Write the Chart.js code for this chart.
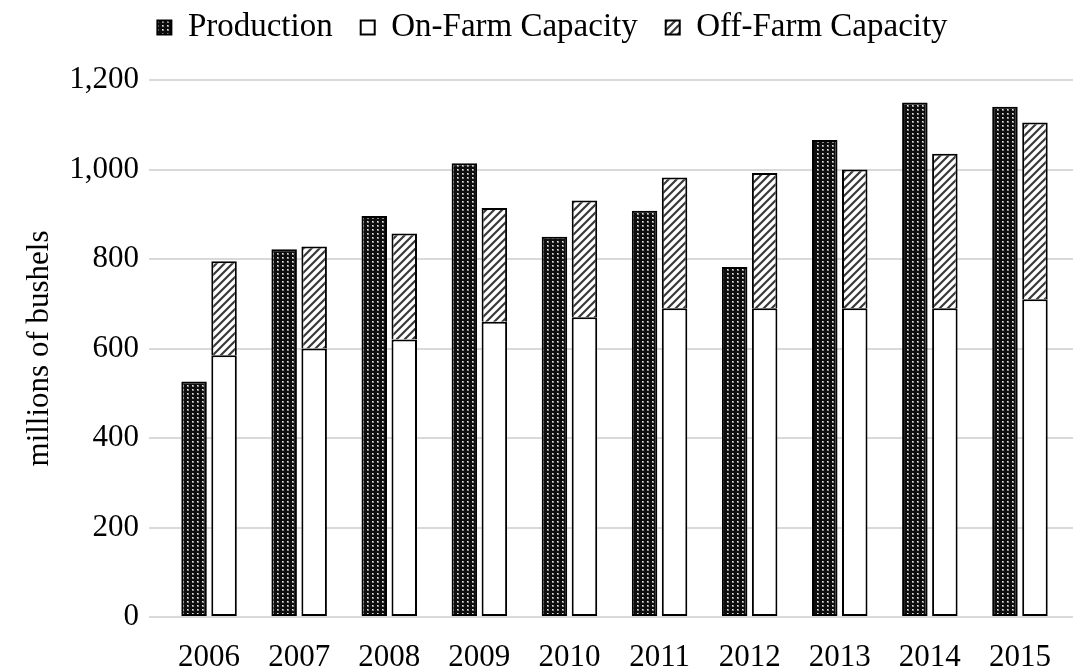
<!DOCTYPE html>
<html>
<head>
<meta charset="utf-8">
<script src="https://cdn.jsdelivr.net/npm/chart.js@4.4.1/dist/chart.umd.min.js"></script>
<style>
  html, body { margin: 0; padding: 0; background: #ffffff; }
  #wrap { width: 1074px; height: 671px; position: relative; }
</style>
</head>
<body>
<div id="wrap"><canvas id="chart"></canvas></div>
<script>
// Crop years on the category axis
const years = ['2006', '2007', '2008', '2009', '2010', '2011', '2012', '2013', '2014', '2015'];

// Millions of bushels
const production      = [526, 822, 896, 1014, 850, 908, 782, 1066, 1150, 1140];
const onFarmCapacity  = [585, 600, 620, 660, 670, 690, 690, 690, 690, 710];
const offFarmCapacity = [210, 228, 237, 254, 261, 292, 302, 310, 345, 395];

// Value axis
const yMin = 0;
const yMax = 1200;
const yStep = 200;

// Dark dotted fill for production
function dottedFill() {
  const c = document.createElement('canvas');
  c.width = 5; c.height = 4;
  const g = c.getContext('2d');
  g.fillStyle = '#0e0e0e';
  g.fillRect(0, 0, 5, 4);
  g.fillStyle = '#8c8c8c';
  g.fillRect(2, 1, 2, 2);
  g.fillStyle = '#e8e8e8';
  g.fillRect(2, 1, 1, 1);
  return g.createPattern(c, 'repeat');
}

// Upward diagonal hatch for off-farm capacity
function hatchFill() {
  const c = document.createElement('canvas');
  c.width = 8; c.height = 8;
  const g = c.getContext('2d');
  g.fillStyle = '#ffffff';
  g.fillRect(0, 0, 8, 8);
  g.strokeStyle = '#3a3a3a';
  g.lineWidth = 2.2;
  g.beginPath();
  g.moveTo(-1, 9); g.lineTo(9, -1);
  g.moveTo(-3, 3); g.lineTo(3, -3);
  g.moveTo(5, 11); g.lineTo(11, 5);
  g.stroke();
  return g.createPattern(c, 'repeat');
}

const serif = "'Liberation Serif', 'Times New Roman', serif";
Chart.defaults.font.family = serif;
Chart.defaults.font.size = 31;
Chart.defaults.color = '#000000';

// Fixes the legend band height so the plot starts at a set offset
const legendBand = {
  id: 'legendBand',
  afterInit(chart) {
    const lg = chart.legend;
    if (!lg) return;
    const fit = lg.fit.bind(lg);
    lg.fit = function () { fit(); this.height = 97; };
  }
};

const barStyle = {
  borderColor: '#000000',
  borderWidth: 2,
  borderSkipped: false,
  categoryPercentage: 0.666,
  barPercentage: 0.85
};

const gridGray = '#d9d9d9';

new Chart(document.getElementById('chart'), {
  type: 'bar',
  data: {
    labels: years,
    datasets: [
      Object.assign({}, barStyle, { label: 'Production', data: production, stack: 'prod', backgroundColor: dottedFill() }),
      Object.assign({}, barStyle, { label: 'On-Farm Capacity', data: onFarmCapacity, stack: 'cap', backgroundColor: '#ffffff' }),
      Object.assign({}, barStyle, { label: 'Off-Farm Capacity', data: offFarmCapacity, stack: 'cap', backgroundColor: hatchFill(), borderSkipped: 'start' })
    ]
  },
  plugins: [legendBand],
  options: {
    responsive: true,
    maintainAspectRatio: false,
    animation: false,
    events: [],
    layout: { padding: { top: -17, left: 32, right: 1, bottom: 0 } },
    plugins: {
      tooltip: { enabled: false },
      legend: {
        position: 'top',
        labels: {
          boxWidth: 14,
          boxHeight: 14,
          padding: 28,
          color: '#000000',
          font: { size: 33, family: serif }
        }
      }
    },
    scales: {
      x: {
        stacked: true,
        grid: { display: false },
        border: { display: false },
        ticks: { padding: 14, maxRotation: 0, autoSkip: false, font: { size: 31 } },
        afterFit(scale) { scale.height = 54; }
      },
      y: {
        stacked: true,
        min: yMin,
        max: yMax,
        ticks: {
          stepSize: yStep,
          padding: 10,
          font: { size: 31 },
          callback: (v) => Number(v).toLocaleString('en-US')
        },
        grid: {
          color: gridGray,
          lineWidth: 2,
          drawTicks: true,
          tickLength: 15,
          tickColor: gridGray
        },
        border: { display: false },
        title: {
          display: true,
          text: 'millions of bushels',
          font: { size: 31, lineHeight: 0.5 },
          padding: 0
        },
        afterFit(scale) { scale.width = 132; }
      },
      yRight: {
        position: 'right',
        min: yMin,
        max: yMax,
        ticks: { stepSize: yStep, display: false },
        grid: {
          color: gridGray,
          lineWidth: 2,
          drawOnChartArea: false,
          drawTicks: true,
          tickLength: 8,
          tickColor: gridGray
        },
        border: { display: false },
        afterFit(scale) { scale.width = 8; }
      }
    }
  }
});
</script>
</body>
</html>
